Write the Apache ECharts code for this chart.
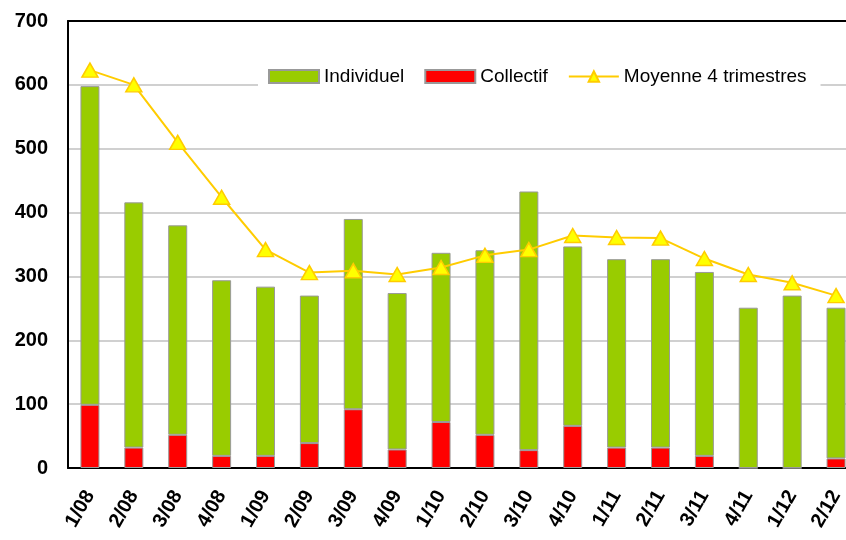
<!DOCTYPE html>
<html>
<head>
<meta charset="utf-8">
<script src="https://cdn.jsdelivr.net/npm/echarts@6/dist/echarts.min.js"></script>
<style>
  html, body { margin: 0; padding: 0; background: #fff; overflow: hidden; }
  #chart { width: 858px; height: 540px; }
</style>
</head>
<body>
<div id="chart"></div>
<script>
const categories = ['1/08', '2/08', '3/08', '4/08', '1/09', '2/09', '3/09', '4/09', '1/10',
  '2/10', '3/10', '4/10', '1/11', '2/11', '3/11', '4/11', '1/12', '2/12'];
const collectif = [99, 32, 52, 19, 19, 39, 92, 29, 72, 52, 28, 66, 32, 32, 19, 0, 0, 15];
const individuel = [499, 384, 328, 275, 265, 231, 298, 245, 265, 289, 405, 281, 295, 295, 288, 251, 270, 236];
const moyenne = [623, 600, 510, 424, 342, 306, 309, 303, 314, 333, 342, 364, 361, 360, 328, 303, 290, 270];

const font = 'Liberation Sans, Arial, sans-serif';

// the plot runs past the right edge of the picture, so the canvas is a bit wider than the window
let chart = echarts.init(document.getElementById('chart'));
let option = {
  animation: false,
  backgroundColor: '#fff',
  grid: { left: 68, top: 21, right: 0, bottom: 72 },
  legend: {
    left: 258,
    top: 60,
    padding: [7, 14, 7, 10],
    backgroundColor: '#fff',
    itemWidth: 50,
    itemHeight: 13,
    itemGap: 20,
    data: [
      { name: 'Individuel', icon: 'rect' },
      { name: 'Collectif', icon: 'rect' },
      'Moyenne 4 trimestres'
    ],
    textStyle: { fontFamily: font, fontSize: 19, color: '#000' }
  },
  xAxis: [{
    type: 'category',
    data: categories,
    axisLine: { lineStyle: { color: '#000', width: 2 } },
    axisTick: { show: false },
    axisLabel: {
      interval: 0, rotate: 60, margin: 24,
      fontFamily: font, fontSize: 20, fontWeight: 'bold', color: '#000'
    }
  }, {
    type: 'category',
    data: categories,
    position: 'top',
    axisLine: { lineStyle: { color: '#000', width: 2 } },
    axisTick: { show: false },
    axisLabel: { show: false }
  }],
  yAxis: {
    type: 'value',
    min: 0, max: 700, interval: 100,
    axisLine: { show: true, lineStyle: { color: '#000', width: 2 } },
    axisTick: { show: false },
    splitLine: { lineStyle: { color: '#c0c0c0', width: 1.5 } },
    axisLabel: {
      margin: 20, fontFamily: font, fontSize: 20, fontWeight: 'bold', color: '#000'
    }
  },
  series: [
    {
      name: 'Collectif', type: 'bar', stack: 'total', data: collectif,
      barWidth: 19,
      itemStyle: { color: '#ff0000', borderColor: '#999', borderWidth: 1 }
    },
    {
      name: 'Individuel', type: 'bar', stack: 'total', data: individuel,
      barWidth: 19,
      itemStyle: { color: '#99cc00', borderColor: '#999', borderWidth: 1 }
    },
    {
      name: 'Moyenne 4 trimestres', type: 'line', data: moyenne,
      symbol: 'triangle', symbolSize: [16, 14],
      lineStyle: { color: '#ffcc00', width: 2 },
      itemStyle: { color: '#ffff00', borderColor: '#ffcc00', borderWidth: 1.5 },
      z: 5
    }
  ]
};

chart.setOption(option);
</script>
</body>
</html>
